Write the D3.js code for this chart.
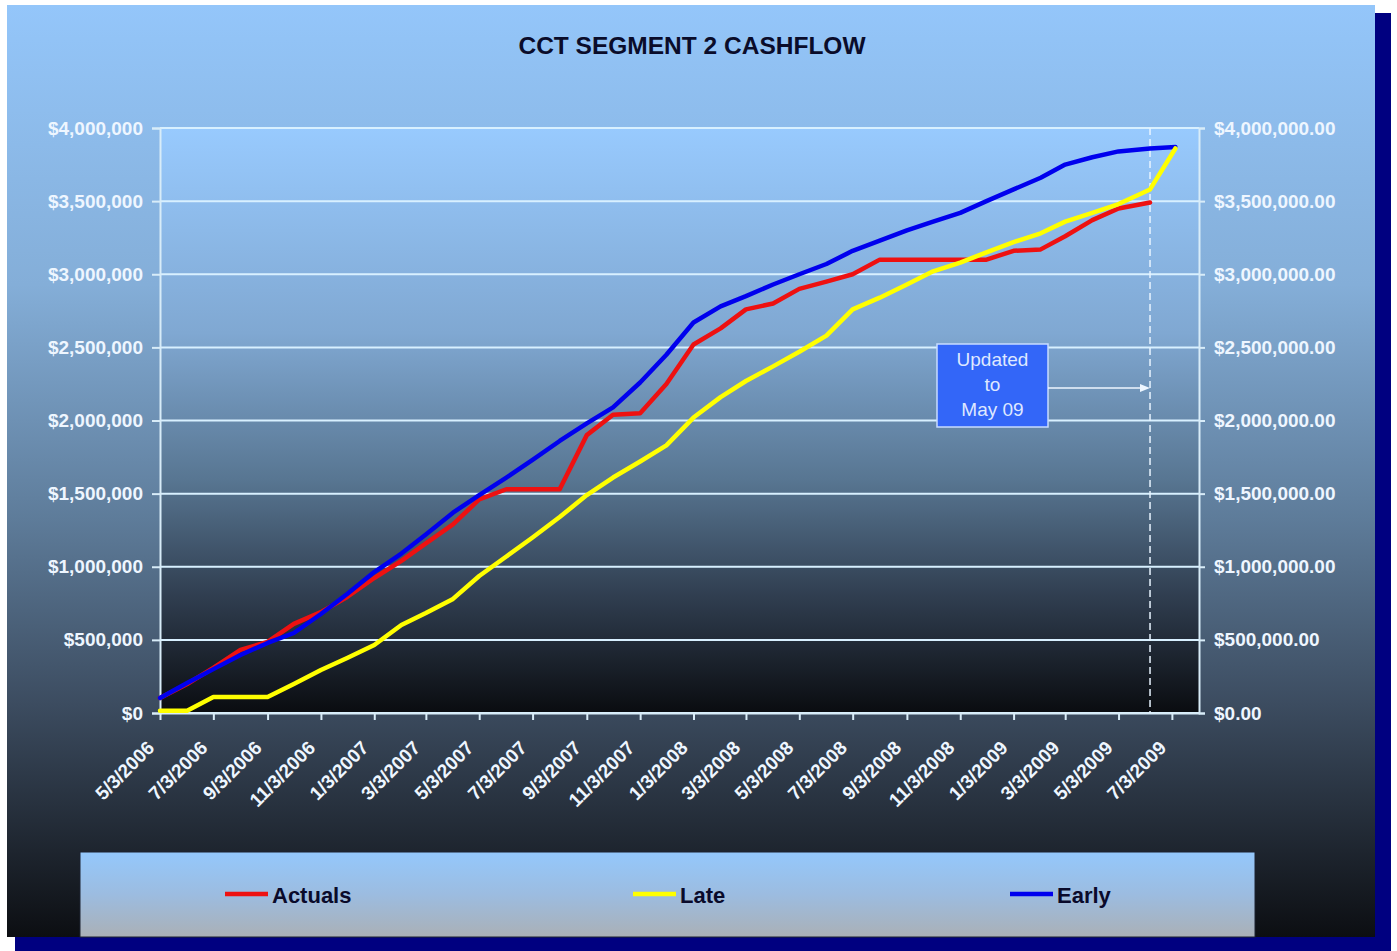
<!DOCTYPE html>
<html><head><meta charset="utf-8">
<script src="https://cdn.jsdelivr.net/npm/d3@7"></script>
<style>
body{margin:0;background:#fff;}
svg{display:block;}
text{font-family:"Liberation Sans",Arial,sans-serif;}
</style>
</head><body>
<svg id="c" width="1397" height="951"></svg>
<script>
const dates = ["2006-05-03","2006-06-03","2006-07-03","2006-08-03","2006-09-03","2006-10-03","2006-11-03","2006-12-03",
"2007-01-03","2007-02-03","2007-03-03","2007-04-03","2007-05-03","2007-06-03","2007-07-03","2007-08-03","2007-09-03","2007-10-03","2007-11-03","2007-12-03",
"2008-01-03","2008-02-03","2008-03-03","2008-04-03","2008-05-03","2008-06-03","2008-07-03","2008-08-03","2008-09-03","2008-10-03","2008-11-03","2008-12-03",
"2009-01-03","2009-02-03","2009-03-03","2009-04-03","2009-05-03","2009-06-08","2009-07-07"];
const actuals = [103000,198000,308000,431000,486000,609000,690000,793000,923000,1040000,1160000,1290000,1460000,1530000,1530000,1530000,1900000,2040000,2050000,2250000,2520000,2630000,2760000,2800000,2900000,2950000,3000000,3100000,3100000,3100000,3100000,3100000,3160000,3170000,3260000,3370000,3450000,3490000];
const late = [15000,15000,109000,109000,109000,198000,294000,376000,465000,602000,684000,780000,937000,1070000,1200000,1340000,1490000,1610000,1720000,1830000,2020000,2160000,2270000,2370000,2470000,2580000,2760000,2840000,2930000,3020000,3080000,3150000,3220000,3280000,3360000,3420000,3480000,3580000,3860000];
const early = [103000,205000,300000,397000,479000,547000,677000,814000,964000,1090000,1220000,1370000,1490000,1610000,1730000,1860000,1980000,2090000,2260000,2450000,2670000,2780000,2850000,2930000,3000000,3070000,3160000,3230000,3300000,3360000,3420000,3500000,3580000,3660000,3750000,3800000,3840000,3860000,3870000];
const seriesNames = ["Actuals","Late","Early"];
const seriesColors = ["#ee1111","#ffff00","#0000ee"];
const yTicks = [0,500000,1000000,1500000,2000000,2500000,3000000,3500000,4000000];
const xTickDates = ["2006-05-03","2006-07-03","2006-09-03","2006-11-03","2007-01-03","2007-03-03","2007-05-03","2007-07-03","2007-09-03","2007-11-03",
"2008-01-03","2008-03-03","2008-05-03","2008-07-03","2008-09-03","2008-11-03","2009-01-03","2009-03-03","2009-05-03","2009-07-03"];
const xDomain = ["2006-05-03","2009-08-03"];
const updateDate = "2009-06-08";
const titleText = "CCT SEGMENT 2 CASHFLOW";
const noteLines = ["Updated","to","May 09"];

const parse = d3.utcParse("%Y-%m-%d");
const svg = d3.select("#c");
const defs = svg.append("defs");
function grad(id, stops){
  const g = defs.append("linearGradient").attr("id",id).attr("x1",0).attr("y1",0).attr("x2",0).attr("y2",1);
  stops.forEach(s=>g.append("stop").attr("offset",s[0]).attr("stop-color",s[1]));
}
grad("outerG",[[0,"#94c6fa"],[0.3,"#84aed8"],[0.55,"#5e7c9a"],[0.75,"#3c4c60"],[1,"#0c0e12"]]);
grad("plotG",[[0,"#98cafe"],[0.35,"#80a8d2"],[0.6,"#587692"],[0.8,"#303e50"],[1,"#0a0c10"]]);
grad("legG",[[0,"#94c8fc"],[0.5,"#9cbce0"],[1,"#aab0b6"]]);

// frame
svg.append("rect").attr("x",1375).attr("y",13).attr("width",16).attr("height",938).attr("fill","#000080");
svg.append("rect").attr("x",15).attr("y",937).attr("width",1376).attr("height",14).attr("fill","#000080");
svg.append("rect").attr("x",7).attr("y",5).attr("width",1368).attr("height",932).attr("fill","url(#outerG)");

const L=160,R=1199,T=128,B=713;
const x = d3.scaleUtc().domain(xDomain.map(parse)).range([L,R]);
const y = d3.scaleLinear().domain([0,4000000]).range([B,T]);

svg.append("rect").attr("x",L).attr("y",T).attr("width",R-L).attr("height",B-T).attr("fill","url(#plotG)");

// title
svg.append("text").attr("x",692).attr("y",54).attr("text-anchor","middle")
  .attr("font-size",24.5).attr("font-weight","bold").attr("fill","#0a0c2a").text(titleText);

// grid
svg.append("g").selectAll("line").data(yTicks).join("line")
  .attr("x1",L).attr("x2",R).attr("y1",d=>y(d)).attr("y2",d=>y(d))
  .attr("stroke","#d8f0ff").attr("stroke-width",2);

const axisColor="#d8ecf8";
const labelColor="#eef6ff";
// left axis
const gl = svg.append("g").attr("transform",`translate(${L},0)`)
  .call(d3.axisLeft(y).tickValues(yTicks).tickFormat(d3.format("$,.0f")).tickSize(8).tickPadding(9));
// right axis
const gr = svg.append("g").attr("transform",`translate(${R},0)`)
  .call(d3.axisRight(y).tickValues(yTicks).tickFormat(d3.format("$,.2f")).tickSize(6).tickPadding(9));
[gl,gr].forEach(g=>{
  g.select(".domain").attr("stroke",axisColor).attr("stroke-width",2);
  g.selectAll(".tick line").attr("stroke",axisColor).attr("stroke-width",2);
  g.selectAll(".tick text").attr("fill",labelColor).attr("font-size",19).attr("font-weight","bold")
    .attr("font-family","'Liberation Sans',Arial,sans-serif");
});
// bottom axis
const gb = svg.append("g").attr("transform",`translate(0,${B})`)
  .call(d3.axisBottom(x).tickValues(xTickDates.map(parse)).tickFormat(d3.utcFormat("%-m/%-d/%Y")).tickSize(7).tickSizeOuter(0));
gb.select(".domain").attr("stroke",axisColor).attr("stroke-width",2);
gb.selectAll(".tick line").attr("stroke",axisColor).attr("stroke-width",2);
gb.selectAll(".tick text").attr("fill",labelColor).attr("font-size",19).attr("font-weight","bold")
  .attr("font-family","'Liberation Sans',Arial,sans-serif")
  .attr("text-anchor","end").attr("y",0).attr("dy",0)
  .attr("transform","translate(-5,36) rotate(-45)");

// dashed update marker
svg.append("line").attr("x1",x(parse(updateDate))).attr("x2",x(parse(updateDate)))
  .attr("y1",T).attr("y2",B).attr("stroke","#e8f4ff").attr("stroke-width",1.5).attr("stroke-dasharray","7,4");

// series
const line = d3.line().x((d,i)=>x(parse(dates[i]))).y(d=>y(d));
const seriesData=[actuals,late,early];
[0,2,1].forEach(k=>{
  svg.append("path").datum(seriesData[k]).attr("d",line).attr("fill","none")
    .attr("stroke",seriesColors[k]).attr("stroke-width",4.5).attr("stroke-linejoin","round").attr("stroke-linecap","round");
});

// annotation
const bx=937,by=344,bw=111,bh=83;
svg.append("rect").attr("x",bx).attr("y",by).attr("width",bw).attr("height",bh)
  .attr("fill","#3366f8").attr("stroke","#c8dcff").attr("stroke-width",1.5);
noteLines.forEach((t,i)=>svg.append("text").attr("x",bx+bw/2).attr("y",359+i*25).attr("dy","0.35em")
  .attr("text-anchor","middle").attr("font-size",19).attr("fill","#dfe8ff").text(t));
const ay=388, ax2=x(parse(updateDate));
svg.append("line").attr("x1",bx+bw).attr("x2",ax2-8).attr("y1",ay).attr("y2",ay).attr("stroke","#eef6ff").attr("stroke-width",1.5);
svg.append("path").attr("d",`M${ax2},${ay} L${ax2-10},${ay-4} L${ax2-10},${ay+4} Z`).attr("fill","#eef6ff");

// legend
svg.append("rect").attr("x",80).attr("y",852).attr("width",1175).attr("height",85)
  .attr("fill","url(#legG)").attr("stroke","#1c2230").attr("stroke-width",1);
const legX=[225,633,1010];
seriesNames.forEach((n,i)=>{
  svg.append("line").attr("x1",legX[i]).attr("x2",legX[i]+43).attr("y1",894).attr("y2",894)
    .attr("stroke",seriesColors[i]).attr("stroke-width",4.5);
  svg.append("text").attr("x",legX[i]+47).attr("y",903).attr("font-size",22).attr("font-weight","bold")
    .attr("fill","#0a0a2a").text(n);
});
</script>
</body></html>
